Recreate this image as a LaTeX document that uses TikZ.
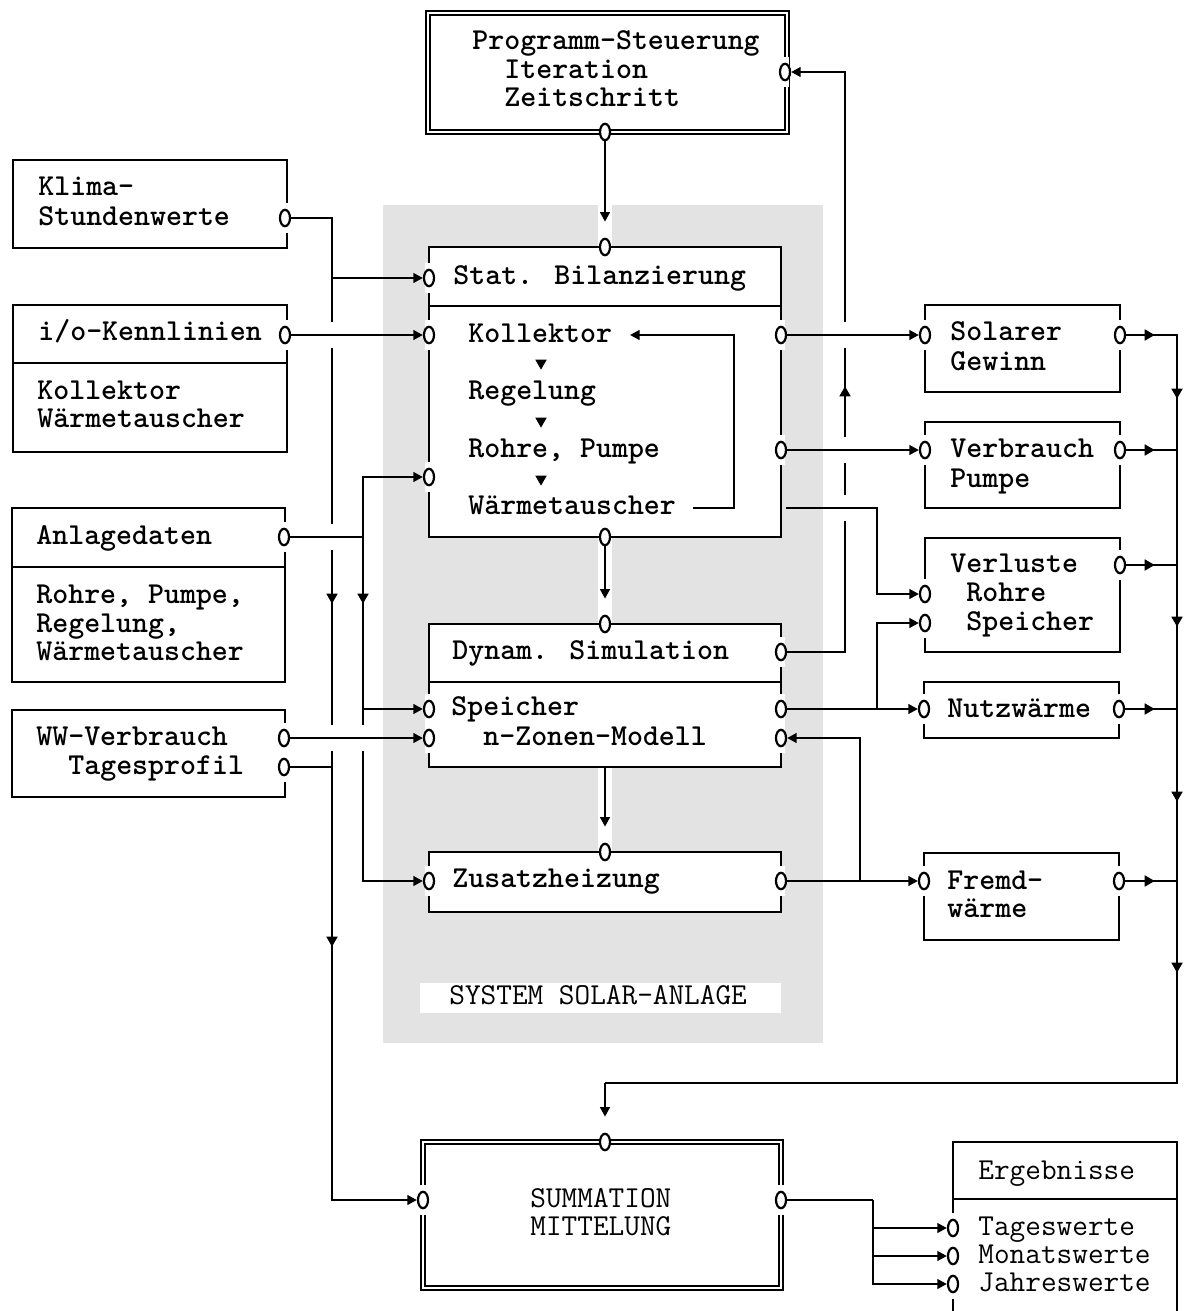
\documentclass[tikz,border=0pt]{standalone}
\usepackage{fontspec}
\usetikzlibrary{arrows.meta,shapes.geometric,fit}

\newcommand\sidep[3]{\node[sgap] (#1-g) at (#2,#3) {}; \node[port] (#1) at (#2,#3) {};}
\newcommand\edgep[3]{\node[port] (#1) at (#2,#3) {};}
\newcommand\mytx[4]{\node[txt] (#1) at (#2,{#3+7}) {#4};}
\newcommand\mylt[4]{\node[txt, ltxt] (#1) at (#2,{#3+7}) {#4};}
\newcommand\mtri[4]{\node[tri, shape border rotate=#4] (#1) at (#2,#3) {};}
\newcommand\xgp[3]{\node[xgap] (#1) at (#2,#3) {};}

\tikzset{
  box/.style={draw, line width=1.3pt, inner sep=0pt, fill=white},
  dbox/.style={draw, double, line width=0.9pt, double distance=1.1pt, inner sep=0pt, fill=white},
  port/.style={ellipse, draw, fill=white, line width=1.1pt, inner sep=0pt, minimum width=5pt, minimum height=8.2pt},
  sgap/.style={rectangle, fill=white, inner sep=0pt, minimum width=4pt, minimum height=15pt},
  xgap/.style={rectangle, fill=white, inner sep=0pt, minimum width=5pt, minimum height=13pt},
  wire/.style={line width=1.3pt},
  arr/.style={wire, -{Triangle[length=4.8pt,width=4.8pt]}},
  varr/.style={arr, shorten >=8pt},
  tri/.style={regular polygon, regular polygon sides=3, fill, inner sep=0pt, minimum size=6.6pt},
  txt/.style={anchor=base west, inner sep=0pt, font=\ttfamily\bfseries\fontsize{15.2pt}{18pt}\selectfont},
  ltxt/.style={font=\ttfamily\fontsize{15.2pt}{18pt}\selectfont},
}

\begin{document}
\begin{tikzpicture}[x=0.5pt, y=-0.5pt]
\useasboundingbox[fill=white] (0,0) rectangle (1189,1311);

% stippled system area
\fill[black!11] (383,205) rectangle (823,1043);
\fill[white] (598,205) rectangle (612,247);
\fill[white] (598,537) rectangle (612,624);
\fill[white] (598,767) rectangle (612,852);
\node[fill=white, inner sep=0pt, fit={(420,983)(781,1013)}] (sysbg) {};

% boxes
\node[dbox, fit={(428,13)(787,132)}] (ps) {};
\node[box, fit={(13,160)(287,248)}] (kl) {};
\node[box, fit={(13,305)(287,452)}] (io) {};
\node[box, fit={(12,508)(285,682)}] (an) {};
\node[box, fit={(12,710)(285,797)}] (ww) {};
\node[box, fit={(429,247)(781,537)}] (st) {};
\node[box, fit={(429,624)(781,767)}] (dy) {};
\node[box, fit={(429,852)(781,912)}] (zu) {};
\node[box, fit={(925,305)(1120,392)}] (so) {};
\node[box, fit={(925,422)(1120,508)}] (vp) {};
\node[box, fit={(925,538)(1120,652)}] (vl) {};
\node[box, fit={(924,682)(1119,738)}] (nw) {};
\node[box, fit={(924,853)(1119,940)}] (fw) {};
\node[dbox, fit={(423,1142)(781,1288)}] (su) {};
\node[box, fit={(953,1142)(1177,1330)}] (er) {};

% dividers
\draw[wire] (13,363) -- (287,363);
\draw[wire] (12,567) -- (285,567);
\draw[wire] (429,306) -- (781,306);
\draw[wire] (429,682) -- (781,682);
\draw[wire] (953,1199) -- (1177,1199);

% ports
\edgep{ps-b}{605}{132}
\sidep{ps-r}{785}{72}
\sidep{kl-r}{285}{218}
\sidep{io-r}{285}{335}
\sidep{an-r}{284}{537}
\sidep{ww-r1}{284}{738}
\sidep{ww-r2}{284}{767}
\edgep{st-t}{605}{247}
\sidep{st-l1}{429}{278}
\sidep{st-l2}{429}{335}
\sidep{st-l3}{429}{477}
\sidep{st-r1}{781}{335}
\sidep{st-r2}{781}{450}
\edgep{st-b}{605}{537}
\edgep{dy-t}{605}{624}
\sidep{dy-r0}{781}{652}
\sidep{dy-l1}{429}{709}
\sidep{dy-l2}{429}{738}
\sidep{dy-r1}{781}{709}
\sidep{dy-r2}{781}{738}
\edgep{zu-t}{605}{852}
\sidep{zu-l}{429}{881}
\sidep{zu-r}{781}{881}
\sidep{so-l}{925}{335}
\sidep{so-r}{1120}{335}
\sidep{vp-l}{925}{450}
\sidep{vp-r}{1120}{450}
\sidep{vl-l1}{925}{594}
\sidep{vl-l2}{925}{623}
\sidep{vl-r}{1120}{565}
\sidep{nw-l}{924}{709}
\sidep{nw-r}{1119}{709}
\sidep{fw-l}{924}{881}
\sidep{fw-r}{1119}{881}
\edgep{su-t}{605}{1142}
\sidep{su-l}{423}{1200}
\sidep{su-r}{781}{1200}
\sidep{er-l1}{953}{1228}
\sidep{er-l2}{953}{1256}
\sidep{er-l3}{953}{1284}

% texts
\mytx{t1}{472}{43}{Programm-Steuerung}
\mytx{t2}{504}{72}{Iteration}
\mytx{t3}{504}{100}{Zeitschritt}
\mytx{t4}{38}{188}{Klima-}
\mytx{t5}{38}{218}{Stundenwerte}
\mytx{t6}{38}{333}{i/o-Kennlinien}
\mytx{t7}{37}{392}{Kollektor}
\mytx{t8}{37}{420}{Wärmetauscher}
\mytx{t9}{36}{537}{Anlagedaten}
\mytx{t10}{36}{596}{Rohre, Pumpe,}
\mytx{t11}{36}{625}{Regelung,}
\mytx{t12}{36}{653}{Wärmetauscher}
\mytx{t13}{36}{738}{WW-Verbrauch}
\mytx{t14}{68}{767}{Tagesprofil}
\mytx{t15}{453}{277}{Stat. Bilanzierung}
\mytx{t16}{468}{335}{Kollektor}
\mytx{t17}{468}{392}{Regelung}
\mytx{t18}{468}{450}{Rohre, Pumpe}
\mytx{t19}{468}{507}{Wärmetauscher}
\mytx{t20}{452}{652}{Dynam. Simulation}
\mytx{t21}{451}{708}{Speicher}
\mytx{t22}{483}{738}{n-Zonen-Modell}
\mytx{t23}{452}{880}{Zusatzheizung}
\mylt{t24}{449}{997}{SYSTEM SOLAR-ANLAGE}
\mylt{t25}{530}{1200}{SUMMATION}
\mylt{t26}{530}{1228}{MITTELUNG}
\mytx{t27}{950}{333}{Solarer}
\mytx{t28}{950}{363}{Gewinn}
\mytx{t29}{950}{450}{Verbrauch}
\mytx{t30}{950}{480}{Pumpe}
\mytx{t31}{950}{565}{Verluste}
\mytx{t32}{966}{594}{Rohre}
\mytx{t33}{966}{623}{Speicher}
\mytx{t34}{947}{710}{Nutzwärme}
\mytx{t35}{947}{882}{Fremd-}
\mytx{t36}{947}{910}{wärme}
\mylt{t37}{978}{1172}{Ergebnisse}
\mylt{t38}{978}{1228}{Tageswerte}
\mylt{t39}{978}{1256}{Monatswerte}
\mylt{t40}{978}{1284}{Jahreswerte}

% coordinates
\coordinate (bA) at (332,218);
\coordinate (bA2) at (332,278);
\coordinate (bB) at (332,1200);
\coordinate (bC) at (332,767);
\coordinate (cB1) at (363,537);
\coordinate (cB2) at (363,709);
\coordinate (fb1) at (845,652);
\coordinate (fb2) at (845,72);
\coordinate (wA) at (786,508);
\coordinate (wB) at (877,508);
\coordinate (vB) at (877,709);
\coordinate (rB) at (860,881);
\coordinate (r1) at (1177,335);
\coordinate (r2) at (1177,450);
\coordinate (r3) at (1177,565);
\coordinate (r4) at (1177,709);
\coordinate (r4b) at (1177,881);
\coordinate (r5) at (1177,1083);
\coordinate (r6) at (605,1083);
\coordinate (e0) at (873,1200);
\coordinate (lp0) at (693,508);
\coordinate (lp1) at (734,508);
\coordinate (lp2) at (734,335);
\coordinate (lp3) at (630,335);

% vertical buses first
\draw[arr] (kl-r) -- (bA) -- (bB) -- (su-l);
\draw[arr] (bA2) -- (st-l1);
\draw[wire] (ww-r2) -- (bC);
\draw[arr] (cB1) |- (st-l3);
\draw[arr] (cB1) |- (zu-l);
\draw[arr] (cB2) -- (dy-l1);
\draw[arr] (dy-r0) -- (fb1) -- (fb2) -- (ps-r);

% crossing gaps
\xgp{g1}{332}{335}
\xgp{g2}{332}{537}
\xgp{g3}{332}{738}
\xgp{g4}{363}{738}
\xgp{g5}{845}{335}
\xgp{g6}{845}{450}
\xgp{g7}{845}{508}

% horizontal connectors
\draw[arr] (io-r) -- (st-l2);
\draw[wire] (an-r) -- (cB1);
\draw[arr] (ww-r1) -- (dy-l2);
\draw[arr] (st-r1) -- (so-l);
\draw[arr] (st-r2) -- (vp-l);
\draw[arr] (wA) -- (wB) |- (vl-l1);
\draw[arr] (dy-r1) -- (nw-l);
\draw[arr] (vB) |- (vl-l2);
\draw[arr] (zu-r) -- (fw-l);
\draw[arr] (rB) |- (dy-r2);

% central flow
\draw[varr] (ps-b) -- (st-t);
\draw[varr] (st-b) -- (dy-t);
\draw[varr] (dy.south) -- (zu-t);
\draw[arr] (lp0) -- (lp1) -- (lp2) -- (lp3);

% right collector
\draw[wire] (so-r) -- (r1) -- (r5) -- (r6);
\draw[varr] (r6) -- (su-t);
\draw[wire] (vp-r) -- (r2);
\draw[wire] (vl-r) -- (r3);
\draw[wire] (nw-r) -- (r4);
\draw[wire] (fw-r) -- (r4b);

% results
\draw[wire] (su-r) -- (e0);
\draw[arr] (e0) |- (er-l1);
\draw[arr] (e0) |- (er-l2);
\draw[arr] (e0) |- (er-l3);

% mid-line triangles
\mtri{m1}{332}{597}{180}
\mtri{m2}{363}{597}{180}
\mtri{m3}{332}{940}{180}
\mtri{m4}{845}{393}{0}
\mtri{m5}{541}{363}{180}
\mtri{m6}{541}{421}{180}
\mtri{m7}{541}{479}{180}
\mtri{m8}{1177}{392}{180}
\mtri{m9}{1177}{620}{180}
\mtri{m10}{1177}{795}{180}
\mtri{m11}{1177}{966}{180}
\mtri{m12}{1148}{335}{-90}
\mtri{m13}{1148}{450}{-90}
\mtri{m14}{1148}{565}{-90}
\mtri{m15}{1148}{709}{-90}
\mtri{m16}{1148}{881}{-90}
\end{tikzpicture}
\end{document}
